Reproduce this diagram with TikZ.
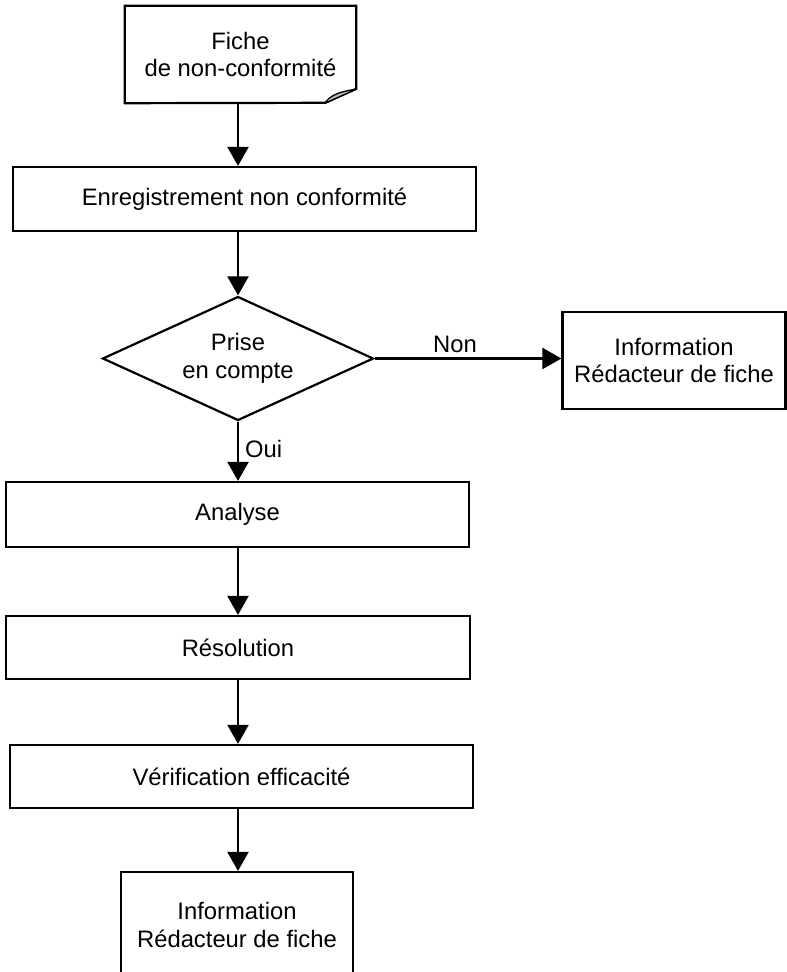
\documentclass[tikz,border=0pt]{standalone}
\usepackage{fontspec}
\setmainfont{Liberation Sans}
\usetikzlibrary{arrows.meta,shapes.geometric}
\begin{document}
\begin{tikzpicture}[x=1pt,y=-1pt,
  every node/.style={font=\fontsize{23.8}{27.5}\selectfont, align=center, inner sep=0pt},
  box/.style={draw, line width=2.2pt, rectangle},
  arr/.style={line width=2.2pt, -{Triangle[length=19pt,width=21pt]}}]
\useasboundingbox (0,0) rectangle (787,972);
\clip (0,0) rectangle (787,972);

% process steps
\node[minimum width=231pt, minimum height=97pt] (doc) at (240.5,54.5) {Fiche\\de non-conformité};
\node[box, minimum width=463pt, minimum height=64pt] (enr) at (244.5,199) {Enregistrement non conformité};
\node[draw, diamond, aspect=2.185, line width=2.2pt, minimum width=271pt, minimum height=124pt] (dec) at (238,358.5) {Prise\\en compte};
\node[box, minimum width=223pt, minimum height=97pt] (inf1) at (674,360.5) {Information\\Rédacteur de fiche};
\node[box, minimum width=463pt, minimum height=65pt] (ana) at (237.5,514.5) {Analyse};
\node[box, minimum width=464pt, minimum height=63pt] (res) at (238,647.5) {Résolution};
\node[box, minimum width=463pt, minimum height=63pt] (ver) at (241.5,776.5) {Vérification efficacité};
\node[box, minimum width=232pt, minimum height=106pt] (inf2) at (237,925) {Information\\Rédacteur de fiche};

% document outline with folded corner
\draw[line width=2.2pt, line join=miter] (doc.north west) -- (doc.north east) -- ++(0,83) -- ++(-31,14) -- (doc.south west) -- cycle;
\filldraw[fill=gray!55, line width=1.3pt, line join=round] (doc.south east) ++(-31,0) coordinate (fa) -- ++(31,-14) coordinate (fb)
  .. controls +(-15,2) and +(4,-8) .. (fa) -- cycle;

% connectors
\draw[arr] (doc.south -| dec.north) -- (enr.north -| dec.north);
\draw[arr] (enr.south -| dec.north) -- (dec.north);
\draw[arr] (dec.east) -- node[pos=0.43, above=5pt] {Non} (inf1.west |- dec.east);
\draw[arr] (dec.south) -- node[pos=0.47, right=6pt] {Oui} (ana.north -| dec.south);
\draw[arr] (ana.south -| dec.north) -- (res.north -| dec.north);
\draw[arr] (res.south -| dec.north) -- (ver.north -| dec.north);
\draw[arr] (ver.south -| dec.north) -- (inf2.north -| dec.north);
\end{tikzpicture}
\end{document}
